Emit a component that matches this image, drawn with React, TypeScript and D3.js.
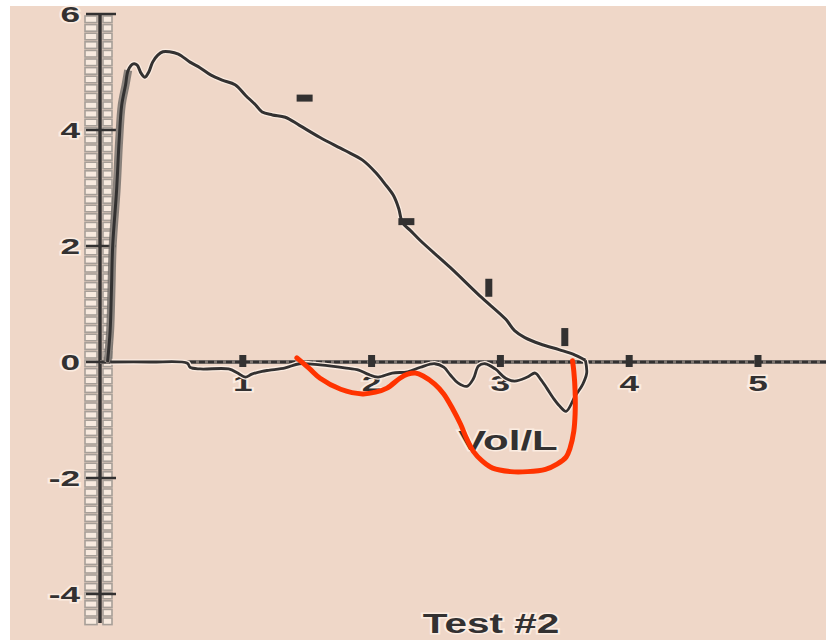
import React from "react";
import * as d3 from "d3";

// Flow-volume loop, test #2: volume (L) against flow (L/s)
const xTicks = [1, 2, 3, 4, 5];
const yTicks = [6, 4, 2, 0, -2, -4];

// Expiratory limb: [volume, flow]
const expVolume = [-0.05, -0.03, -0.02, -0.01, 0.02, 0.04, 0.06, 0.09, 0.11, 0.15, 0.18, 0.21, 0.24, 0.27, 0.3, 0.34, 0.38, 0.43, 0.5, 0.59, 0.67, 0.75, 0.84, 0.94, 1.02, 1.1, 1.15, 1.23, 1.33, 1.44, 1.6, 1.79, 1.93, 2.03, 2.1, 2.17, 2.21, 2.24, 2.3, 2.38, 2.61, 2.84, 3.04, 3.11, 3.19, 3.31, 3.46, 3.58, 3.66];
const expFlow = [0, 0.54, 1.23, 2.01, 2.96, 3.82, 4.43, 4.78, 5.03, 5.14, 5.12, 4.98, 4.91, 5.0, 5.17, 5.29, 5.35, 5.35, 5.31, 5.17, 5.07, 4.95, 4.86, 4.78, 4.6, 4.43, 4.31, 4.26, 4.22, 4.08, 3.87, 3.65, 3.48, 3.27, 3.08, 2.87, 2.65, 2.4, 2.27, 2.09, 1.63, 1.14, 0.74, 0.54, 0.42, 0.31, 0.21, 0.12, 0.03];

// Inspiratory limb, drawn back from end of expiration
const inspVolume = [3.66, 3.67, 3.64, 3.58, 3.51, 3.46, 3.41, 3.36, 3.31, 3.27, 3.21, 3.11, 3.04, 2.96, 2.88, 2.83, 2.79, 2.74, 2.67, 2.61, 2.56, 2.49, 2.38, 2.28, 2.16, 2.05, 1.97, 1.9, 1.79, 1.6, 1.44, 1.33, 1.21, 1.15, 1.07, 1.02, 0.96, 0.89, 0.67, 0.59, 0.57, 0.28, -0.03];
const inspFlow = [0.03, -0.19, -0.38, -0.59, -0.85, -0.76, -0.62, -0.45, -0.29, -0.19, -0.26, -0.33, -0.28, -0.12, -0.03, -0.07, -0.29, -0.42, -0.36, -0.22, -0.09, -0.03, -0.09, -0.17, -0.19, -0.26, -0.21, -0.14, -0.1, -0.05, -0.03, -0.1, -0.14, -0.16, -0.21, -0.26, -0.19, -0.12, -0.12, -0.09, -0.02, 0, 0];

// Hand-drawn red annotation under the inspiratory limb
const noteVolume = [1.42, 1.52, 1.6, 1.76, 1.93, 2.03, 2.12, 2.22, 2.28, 2.34, 2.4, 2.49, 2.56, 2.63, 2.69, 2.74, 2.79, 2.86, 2.94, 3.08, 3.21, 3.35, 3.44, 3.51, 3.54, 3.57, 3.58, 3.58, 3.57, 3.56];
const noteFlow = [0.07, -0.12, -0.28, -0.47, -0.55, -0.52, -0.45, -0.28, -0.21, -0.19, -0.24, -0.38, -0.55, -0.81, -1.07, -1.33, -1.54, -1.71, -1.83, -1.89, -1.89, -1.85, -1.76, -1.64, -1.49, -1.19, -0.9, -0.5, -0.16, 0.02];

// Marker dashes along the expiratory limb
const hMarkVolume = [1.48, 2.27];
const hMarkFlow = [4.55, 2.42];
const vMarkVolume = [2.91, 3.5];
const vMarkFlow = [1.28, 0.43];

const W = 826;
const H = 640;
const INK = "#333131";
const HALO = "#fbece1";
const FONT = "'Liberation Sans', Arial, sans-serif";

export default function App() {
  const x = d3.scaleLinear().domain([0, 5]).range([114, 758]);
  const y = d3.scaleLinear().domain([-4, 6]).range([594, 14]);
  const axisX = 100;
  const y0 = y(0);

  const pts = (xs: number[], ys: number[]) => xs.map((v, i) => [v, ys[i]] as [number, number]);
  const line = d3
    .line<[number, number]>()
    .x((d) => x(d[0]))
    .y((d) => y(d[1]))
    .curve(d3.curveCatmullRom.alpha(0.5));

  const expPts = pts(expVolume, expFlow);
  const expPath = line(expPts) || "";
  // the steep rise is traced heavier than the rest of the limb
  const risePath = line(expPts.slice(0, 9)) || "";
  const inspPath = line(pts(inspVolume, inspFlow)) || "";
  const notePath = line(pts(noteVolume, noteFlow)) || "";

  // ladder cells beside the flow axis
  const cells: number[] = d3.range(16, 620, 8.6);

  const label = (
    key: string,
    tx: number,
    ty: number,
    text: string,
    size: number,
    sx: number,
    anchor: string
  ) => (
    <g key={key} transform={`translate(${tx},${ty}) scale(${sx},1)`}>
      <text
        textAnchor={anchor}
        fontFamily={FONT}
        fontWeight="bold"
        fontSize={size}
        fill={INK}
        stroke={HALO}
        strokeWidth={3}
        paintOrder="stroke"
      >
        {text}
      </text>
    </g>
  );

  return (
    <div style={{ position: "fixed", left: 0, top: 0, width: W, height: H }}>
      <svg width={W} height={H} style={{ display: "block" }}>
        <rect x={0} y={0} width={W} height={H} fill="#ffffff" />
        <rect x={10} y={6} width={W - 10} height={H - 6} fill="#efd7c8" />

        {/* ladder strip of the flow axis */}
        {cells.map((c, i) => (
          <g key={`cell${i}`}>
            <rect x={85} y={c} width={12} height={6.6} fill="#f8eadf" stroke="#a79f98" strokeWidth={1.6} />
            <rect x={103} y={c} width={9} height={6.6} fill="#f8eadf" stroke="#a79f98" strokeWidth={1.6} />
          </g>
        ))}

        {/* flow axis */}
        <line x1={axisX} x2={axisX} y1={y(6)} y2={623} stroke={INK} strokeWidth={3.5} />
        {yTicks.map((t) => (
          <line key={`yt${t}`} x1={86} x2={116} y1={y(t)} y2={y(t)} stroke={INK} strokeWidth={2.5} />
        ))}
        {yTicks.map((t) => label(`yl${t}`, 80, y(t) + 8, String(t), 22, 1.6, "end"))}

        {/* volume axis */}
        <line x1={axisX} x2={W} y1={y0} y2={y0} stroke="#7d7570" strokeWidth={4} />
        <line x1={axisX} x2={W} y1={y0} y2={y0} stroke={INK} strokeWidth={2.5} strokeDasharray="6 3" />
        {xTicks.map((t) => (
          <line key={`xt${t}`} x1={x(t)} x2={x(t)} y1={y0 - 7} y2={y0 + 5} stroke={INK} strokeWidth={7} />
        ))}
        {xTicks.map((t) => label(`xl${t}`, x(t), y0 + 29, String(t), 22, 1.6, "middle"))}

        {/* flow-volume loop */}
        <path d={expPath} fill="none" stroke={HALO} strokeWidth={5.5} strokeLinejoin="round" />
        <path d={inspPath} fill="none" stroke={HALO} strokeWidth={5.5} strokeLinejoin="round" />
        <path d={risePath} fill="none" stroke="#6f6a66" strokeWidth={8} strokeLinejoin="round" opacity={0.8} />
        <path d={expPath} fill="none" stroke={INK} strokeWidth={3} strokeLinejoin="round" />
        <path d={inspPath} fill="none" stroke={INK} strokeWidth={2.8} strokeLinejoin="round" />

        {/* markers */}
        {hMarkVolume.map((v, i) => (
          <rect key={`hm${i}`} x={x(v) - 8} y={y(hMarkFlow[i]) - 3.5} width={16} height={7} fill={INK} />
        ))}
        {vMarkVolume.map((v, i) => (
          <rect key={`vm${i}`} x={x(v) - 3.5} y={y(vMarkFlow[i]) - 9} width={7} height={18} fill={INK} />
        ))}

        {/* axis titles */}
        {label("vol", 508, 450, "Vol/L", 28, 1.5, "middle")}
        {label("test", 491, 633, "Test #2", 27, 1.5, "middle")}

        {/* red annotation */}
        <path d={notePath} fill="none" stroke="#ff3300" strokeWidth={5} strokeLinecap="round" strokeLinejoin="round" />
      </svg>
    </div>
  );
}
